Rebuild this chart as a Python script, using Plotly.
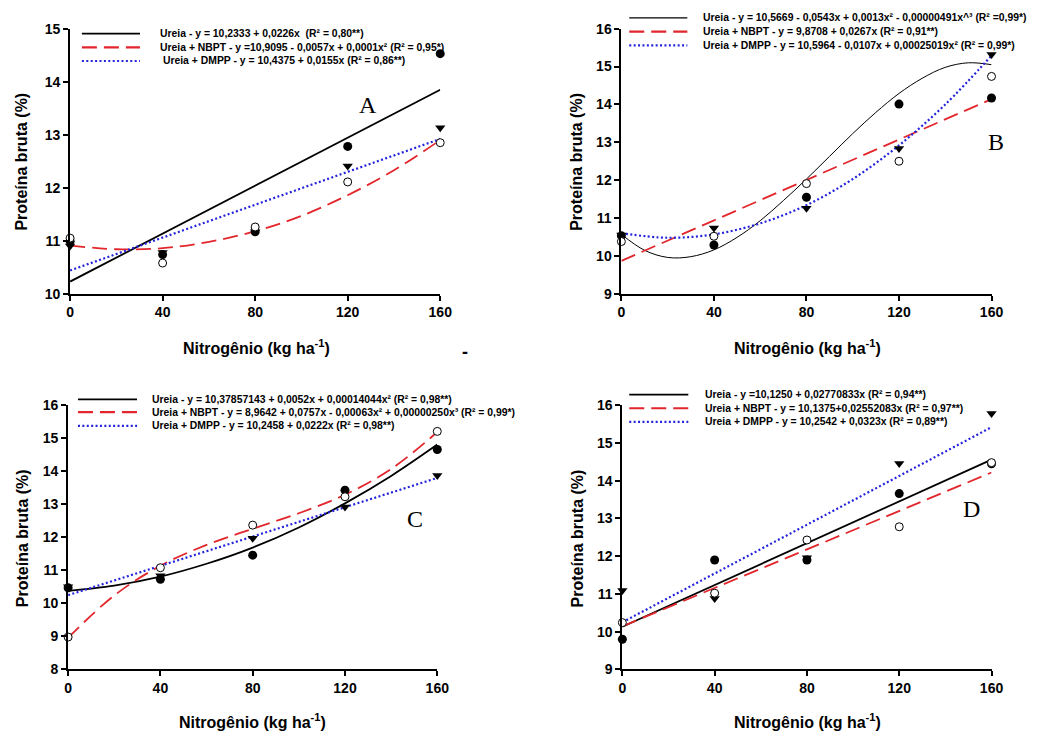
import plotly.graph_objects as go

W, H = 1037, 740
OFF = 8  # default page body margin in the browser
FW, FH = W - OFF, H - OFF

# ---------------- data ----------------
N = [0, 40, 80, 120, 160]
TICKS_X = [0, 40, 80, 120, 160]

A_ureia = [10.99, 10.74, 11.17, 12.78, 14.53]
A_nbpt = [11.05, 10.58, 11.26, 12.11, 12.85]
A_dmpp = [10.90, 10.78, 11.17, 12.41, 13.13]

B_ureia = [10.53, 10.29, 11.55, 14.01, 14.17]
B_nbpt = [10.38, 10.52, 11.91, 12.50, 14.74]
B_dmpp = [10.55, 10.74, 11.26, 12.84, 15.32]

C_ureia = [10.47, 10.73, 11.46, 13.43, 14.66]
C_nbpt = [8.98, 11.08, 12.37, 13.23, 15.21]
C_dmpp = [10.50, 10.84, 11.97, 12.92, 13.87]

D_ureia = [9.80, 11.90, 11.90, 13.66, 14.45]
D_nbpt = [10.24, 11.02, 12.43, 12.78, 14.48]
D_dmpp = [11.09, 10.88, 11.96, 14.46, 15.78]

# fitted curves
FIT_X = [0, 20, 40, 60, 80, 100, 120, 140, 160]
FIT_X10 = [0, 10, 20, 30, 40, 50, 60, 70, 80, 90, 100, 110, 120, 130, 140, 150, 160]
LIN_X = [0, 160]

A_fit_ureia = [10.23, 13.85]
A_fit_nbpt = [10.91, 10.84, 10.86, 10.98, 11.18, 11.47, 11.86, 12.33, 12.90]
A_fit_dmpp = [10.44, 12.92]

B_fit_ureia = [10.57, 10.15, 9.96, 9.98, 10.16, 10.49, 10.93, 11.46, 12.03,
               12.63, 13.23, 13.79, 14.29, 14.69, 14.98, 15.10, 15.05]
B_fit_nbpt = [9.87, 14.14]
B_fit_dmpp = [10.60, 10.48, 10.57, 10.86, 11.34, 12.03, 12.92, 14.00, 15.29]

C_fit_ureia = [10.38, 10.54, 10.81, 11.20, 11.69, 12.30, 13.03, 13.86, 14.81]
C_fit_nbpt = [8.96, 10.24, 11.14, 11.77, 12.26, 12.73, 13.29, 14.07, 15.19]
C_fit_dmpp = [10.25, 13.80]

D_fit_ureia = [10.13, 14.56]
D_fit_nbpt = [10.14, 14.22]
D_fit_dmpp = [10.25, 15.42]

LEG_A = ["Ureia - y = 10,2333 + 0,0226x  (R² = 0,80**)",
         "Ureia + NBPT - y =10,9095 - 0,0057x + 0,0001x² (R² = 0,95*)",
         " Ureia + DMPP - y = 10,4375 + 0,0155x (R² = 0,86**)"]
LEG_B = ["Ureia - y = 10,5669 - 0,0543x + 0,0013x² - 0,00000491x^³ (R² =0,99*)",
         "Ureia + NBPT - y = 9,8708 + 0,0267x (R² = 0,91**)",
         "Ureia + DMPP - y = 10,5964 - 0,0107x + 0,00025019x² (R² = 0,99*)"]
LEG_C = ["Ureia - y = 10,37857143 + 0,0052x + 0,00014044x² (R² = 0,98**)",
         "Ureia + NBPT - y = 8,9642 + 0,0757x - 0,00063x² + 0,00000250x³ (R² = 0,99*)",
         "Ureia + DMPP - y = 10,2458 + 0,0222x (R² = 0,98**)"]
LEG_D = ["Ureia - y =10,1250 + 0,02770833x (R² = 0,94**)",
         "Ureia + NBPT - y = 10,1375+0,02552083x (R² = 0,97**)",
         "Ureia + DMPP - y = 10,2542 + 0,0323x (R² = 0,89**)"]

X_TITLE = "Nitrogênio (kg ha<sup>-1</sup>)"
Y_TITLE = "Proteína bruta (%)"

# ---------------- styling ----------------
BLACK = "#000000"
RED = "#e2262c"
BLUE = "#2323dc"
FONT = "Liberation Sans, Arial, sans-serif"
LEG_SIZE = 10.4


def px(x):
    return (x - OFF) / FW


def py(y):
    return 1 - (y - OFF) / FH


panels = [
    dict(xa="x", ya="y", xd=(67, 443), yd=(21, 292), yr=[10, 15], yt=[10, 11, 12, 13, 14, 15],
         data=(A_ureia, A_nbpt, A_dmpp),
         fits=((LIN_X, A_fit_ureia), (FIT_X, A_fit_nbpt), (LIN_X, A_fit_dmpp)),
         leg=LEG_A, lx=(79, 138), ly=(26, 40, 54), tx=156, uw=1.8,
         letter="A", lpos=(370, 99), xt=(256, 346), ytp=(18, 157)),
    dict(xa="x2", ya="y2", xd=(627, 1003), yd=(21, 292), yr=[9, 16], yt=[9, 10, 11, 12, 13, 14, 15, 16],
         data=(B_ureia, B_nbpt, B_dmpp),
         fits=((FIT_X10, B_fit_ureia), (LIN_X, B_fit_nbpt), (FIT_X, B_fit_dmpp)),
         leg=LEG_B, lx=(635, 694), ly=(10, 24, 38), tx=708, uw=1.0,
         letter="B", lpos=(1008, 137), xt=(816, 346), ytp=(582, 157)),
    dict(xa="x3", ya="y3", xd=(65, 440), yd=(406, 676), yr=[8, 16], yt=[8, 9, 10, 11, 12, 13, 14, 15, 16],
         data=(C_ureia, C_nbpt, C_dmpp),
         fits=((FIT_X, C_fit_ureia), (FIT_X, C_fit_nbpt), (LIN_X, C_fit_dmpp)),
         leg=LEG_C, lx=(75, 135), ly=(400, 413, 427), tx=148, uw=1.8,
         letter="C", lpos=(417, 522), xt=(252, 729), ytp=(18, 542)),
    dict(xa="x4", ya="y4", xd=(628, 1003), yd=(406, 676), yr=[9, 16], yt=[9, 10, 11, 12, 13, 14, 15, 16],
         data=(D_ureia, D_nbpt, D_dmpp),
         fits=((LIN_X, D_fit_ureia), (LIN_X, D_fit_nbpt), (LIN_X, D_fit_dmpp)),
         leg=LEG_D, lx=(635, 695), ly=(395, 409, 423), tx=710, uw=1.8,
         letter="D", lpos=(983, 512), xt=(816, 729), ytp=(582, 542)),
]

fig = go.Figure()
annotations = []
shapes = []
layout = {}

for i, p in enumerate(panels):
    xa, ya = p["xa"], p["ya"]
    ureia, nbpt, dmpp = p["data"]
    (fx0, fy0), (fx1, fy1), (fx2, fy2) = p["fits"]

    # fitted lines
    fig.add_trace(go.Scatter(x=fx0, y=fy0, xaxis=xa, yaxis=ya, mode="lines",
                             line=dict(color=BLACK, width=p["uw"], shape="spline"),
                             showlegend=False, name="Ureia", cliponaxis=False))
    fig.add_trace(go.Scatter(x=fx1, y=fy1, xaxis=xa, yaxis=ya, mode="lines",
                             line=dict(color=RED, width=1.8, dash="15px,7px", shape="spline"),
                             showlegend=False, name="Ureia + NBPT", cliponaxis=False))
    fig.add_trace(go.Scatter(x=fx2, y=fy2, xaxis=xa, yaxis=ya, mode="lines",
                             line=dict(color=BLUE, width=2.2, dash="2px,2.4px", shape="spline"),
                             showlegend=False, name="Ureia + DMPP", cliponaxis=False))
    # observed points
    fig.add_trace(go.Scatter(x=N, y=dmpp, xaxis=xa, yaxis=ya, mode="markers",
                             marker=dict(symbol="triangle-down", size=9, color=BLACK),
                             showlegend=False, name="Ureia + DMPP", cliponaxis=False))
    fig.add_trace(go.Scatter(x=N, y=ureia, xaxis=xa, yaxis=ya, mode="markers",
                             marker=dict(symbol="circle", size=9, color=BLACK),
                             showlegend=False, name="Ureia", cliponaxis=False))
    fig.add_trace(go.Scatter(x=N, y=nbpt, xaxis=xa, yaxis=ya, mode="markers",
                             marker=dict(symbol="circle", size=8, color="white",
                                         line=dict(color=BLACK, width=1)),
                             showlegend=False, name="Ureia + NBPT", cliponaxis=False))

    suffix = "" if i == 0 else str(i + 1)
    layout["xaxis" + suffix] = dict(
        domain=[px(p["xd"][0]), px(p["xd"][1])], anchor=ya, range=[0, 160],
        tickvals=TICKS_X, ticks="outside", ticklen=5, tickwidth=1.5, tickcolor=BLACK,
        showline=True, linecolor=BLACK, linewidth=1.8, showgrid=False, zeroline=False,
        tickfont=dict(family=FONT, size=14, color=BLACK, weight="bold"), fixedrange=True)
    layout["yaxis" + suffix] = dict(
        domain=[py(p["yd"][1]), py(p["yd"][0])], anchor=xa, range=p["yr"],
        tickvals=p["yt"], ticks="outside", ticklen=5, tickwidth=1.5, tickcolor=BLACK,
        showline=True, linecolor=BLACK, linewidth=1.8, showgrid=False, zeroline=False,
        tickfont=dict(family=FONT, size=14, color=BLACK, weight="bold"), fixedrange=True)

    # manual legend
    styles = [dict(color=BLACK, width=1.8 if p["uw"] > 1 else 1.2),
              dict(color=RED, width=2.2, dash="15px,7px"),
              dict(color=BLUE, width=2.2, dash="2px,2.4px")]
    for k in range(3):
        shapes.append(dict(type="line", xref="paper", yref="paper",
                           x0=px(p["lx"][0]), x1=px(p["lx"][1]),
                           y0=py(p["ly"][k]), y1=py(p["ly"][k]), line=styles[k]))
        annotations.append(dict(text=p["leg"][k], xref="paper", yref="paper",
                                x=px(p["tx"]), y=py(p["ly"][k]), xanchor="left", yanchor="middle",
                                showarrow=False,
                                font=dict(family=FONT, size=LEG_SIZE, color=BLACK, weight="bold")))
    # panel letter
    annotations.append(dict(text=p["letter"], xref="paper", yref="paper",
                            x=px(p["lpos"][0]), y=py(p["lpos"][1]), xanchor="center", yanchor="middle",
                            showarrow=False,
                            font=dict(family="Liberation Serif, Times New Roman, serif", size=24, color=BLACK)))
    # axis titles
    annotations.append(dict(text=X_TITLE, xref="paper", yref="paper",
                            x=px(p["xt"][0]), y=py(p["xt"][1]), xanchor="center", yanchor="middle",
                            showarrow=False, font=dict(family=FONT, size=16, color=BLACK, weight="bold")))
    annotations.append(dict(text=Y_TITLE, xref="paper", yref="paper", textangle=-90,
                            x=px(p["ytp"][0]), y=py(p["ytp"][1]), xanchor="center", yanchor="middle",
                            showarrow=False, font=dict(family=FONT, size=16, color=BLACK, weight="bold")))

# stray dash from the original figure
annotations.append(dict(text="-", xref="paper", yref="paper", x=px(468), y=py(351),
                        xanchor="center", yanchor="middle", showarrow=False,
                        font=dict(family=FONT, size=18, color=BLACK, weight="bold")))

fig.update_layout(
    width=FW, height=FH, margin=dict(l=0, r=0, t=0, b=0),
    paper_bgcolor="white", plot_bgcolor="white",
    showlegend=False, annotations=annotations, shapes=shapes,
    **layout,
)

fig.write_html("out.html", include_plotlyjs=True, config={"displayModeBar": False})
